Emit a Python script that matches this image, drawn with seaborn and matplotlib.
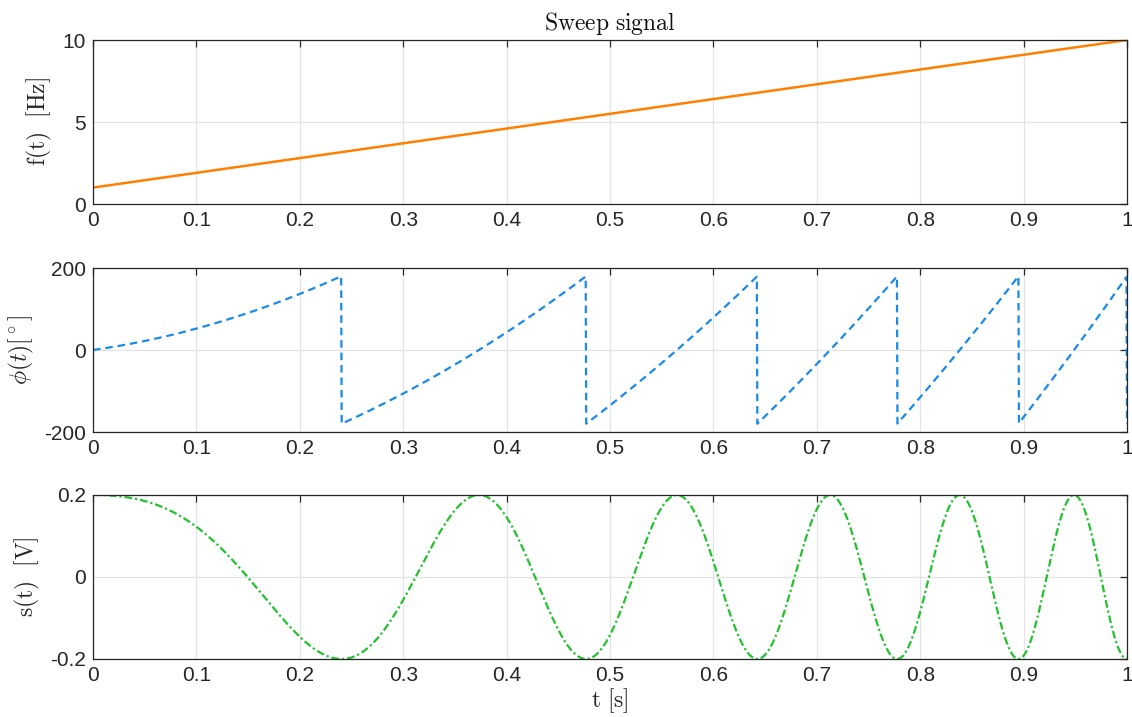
import numpy as np
import pandas as pd
import matplotlib
matplotlib.use("Agg")
import matplotlib.pyplot as plt
import seaborn as sns

# ---- data ----
t_knots = [0.0, 1.0]          # time [s] at the ends of the sweep
f_knots = [1.0, 10.0]         # instantaneous frequency [Hz] at those times
amplitude = 0.2               # signal amplitude [V]
n_samples = 2001              # sampling of the time axis

x_ticks = [0, 0.1, 0.2, 0.3, 0.4, 0.5, 0.6, 0.7, 0.8, 0.9, 1]
x_ticklabels = ["0", "0.1", "0.2", "0.3", "0.4", "0.5", "0.6", "0.7", "0.8", "0.9", "1"]
f_ticks = [0, 5, 10]
phi_ticks = [-200, 0, 200]
s_ticks = [-0.2, 0, 0.2]
s_ticklabels = ["-0.2", "0", "0.2"]

# derived quantities: phase (in cycles) is the integral of the frequency
t = np.linspace(t_knots[0], t_knots[1], n_samples)
f = np.interp(t, t_knots, f_knots)
cycles = np.concatenate([[0], np.cumsum((f[1:] + f[:-1]) / 2 * np.diff(t))])
cycles = np.round(cycles, 10)
phi_deg = np.mod(360 * cycles + 180, 360) - 180
s = amplitude * np.cos(2 * np.pi * cycles)

df = pd.DataFrame({"t": t, "f": f, "phi": phi_deg, "s": s})

sns.set_style("white")
plt.rcParams["mathtext.fontset"] = "cm"
plt.rcParams["font.family"] = ["Liberation Sans", "DejaVu Sans"]

fig = plt.figure(figsize=(11.32, 7.17), dpi=100)
left, width, height = 93 / 1132, (1127 - 93) / 1132, 164 / 717
bottoms = [1 - 204 / 717, 1 - 432 / 717, 1 - 659 / 717]
axes = [fig.add_axes([left, b, width, height]) for b in bottoms]

dark = "#262626"
sns.lineplot(data=df, x="t", y="f", ax=axes[0], color="#FF8000", lw=1.8,
             estimator=None, sort=False)
sns.lineplot(data=df, x="t", y="phi", ax=axes[1], color="#1A8AE8", lw=1.6,
             estimator=None, sort=False, linestyle=(0, (3.4, 2.2)))
sns.lineplot(data=df, x="t", y="s", ax=axes[2], color="#22C22E", lw=1.6,
             estimator=None, sort=False, linestyle=(0, (3.5, 1.3, 1.0, 1.3)))

ylims = [(0, 10), (-200, 200), (-0.2, 0.2)]
yticks = [f_ticks, phi_ticks, s_ticks]
yticklabels = [[str(v) for v in f_ticks], [str(v) for v in phi_ticks], s_ticklabels]
ylabels = [r"$\mathrm{f(t)\ \ [Hz]}$", r"$\phi(t)[^\circ]$", r"$\mathrm{s(t)\ \ [V]}$"]

for ax, yl, yt, ytl, lab in zip(axes, ylims, yticks, yticklabels, ylabels):
    ax.set_xlim(0, 1)
    ax.set_ylim(*yl)
    ax.set_xticks(x_ticks)
    ax.set_xticklabels(x_ticklabels)
    ax.set_yticks(yt)
    ax.set_yticklabels(ytl)
    ax.grid(True, color="#E3E3E3", lw=0.9)
    ax.set_axisbelow(True)
    for sp in ax.spines.values():
        sp.set_visible(True)
        sp.set_color(dark)
        sp.set_linewidth(0.9)
    ax.tick_params(direction="in", length=5, width=0.9, colors=dark,
                   labelsize=15, top=True, right=True, pad=5)
    ax.set_ylabel(lab, fontsize=17, color=dark, labelpad=6)
    ax.set_xlabel("")

axes[0].set_title(r"$\mathrm{Sweep\ signal}$", fontsize=17, color="#111111", pad=7)
axes[2].set_xlabel(r"$\mathrm{t\ [s]}$", fontsize=17, color=dark, labelpad=1)

fig.savefig("out.png", dpi=100)
